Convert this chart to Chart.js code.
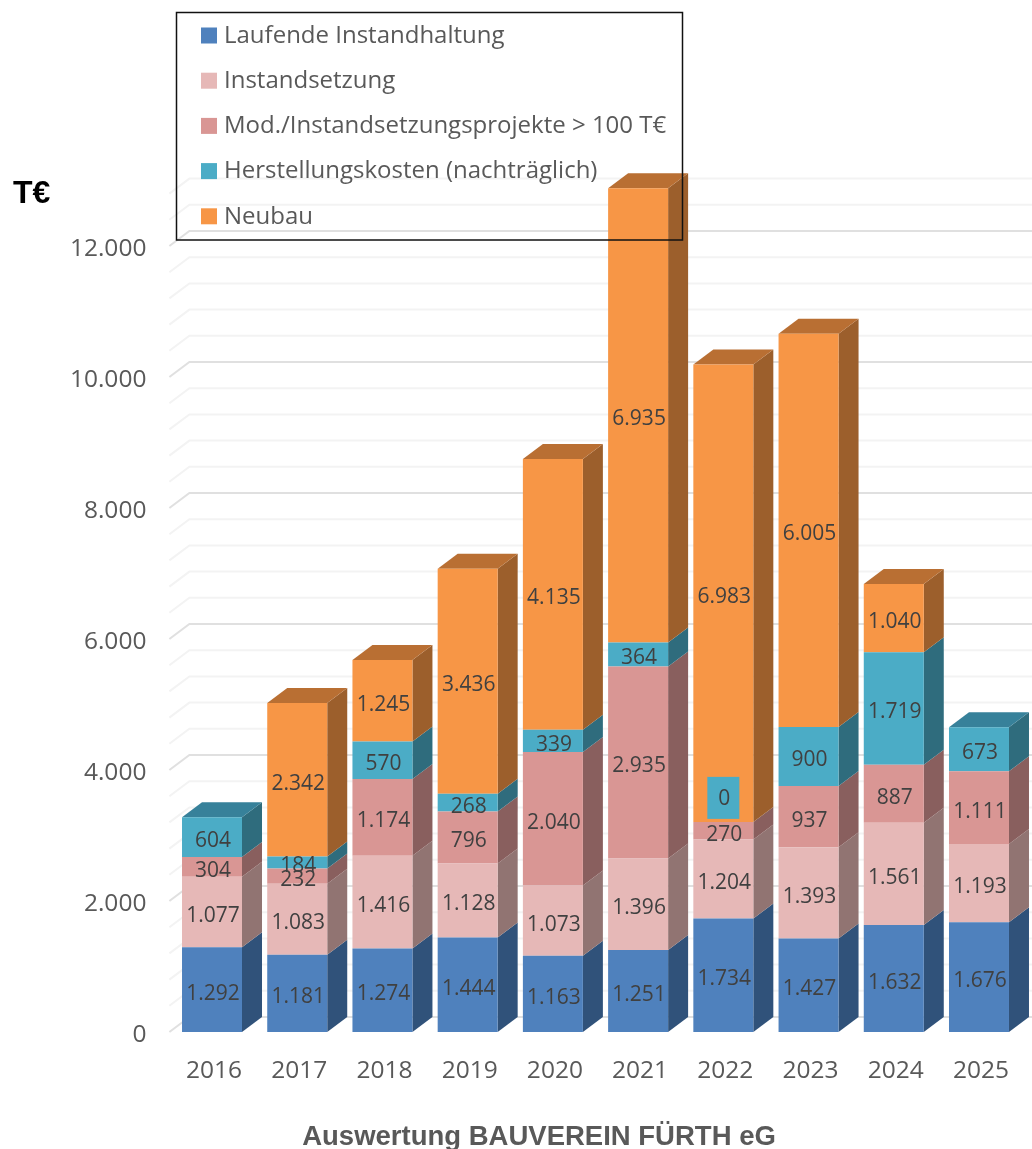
<!DOCTYPE html>
<html lang="de">
<head>
<meta charset="utf-8">
<title>Auswertung BAUVEREIN FÜRTH eG</title>
<script src="https://cdn.jsdelivr.net/npm/chart.js@4/dist/chart.umd.min.js"></script>
<style>
    html, body { margin: 0; padding: 0; background: #fff; }
    canvas { display: block; filter: blur(0.5px); }
</style>
</head>
<body>
<canvas id="costChart" width="1032" height="1149"></canvas>
<script>
// Values in T€
const years = ['2016', '2017', '2018', '2019', '2020', '2021', '2022', '2023', '2024', '2025'];
const laufendeInstandhaltung = [1292, 1181, 1274, 1444, 1163, 1251, 1734, 1427, 1632, 1676];
const instandsetzung = [1077, 1083, 1416, 1128, 1073, 1396, 1204, 1393, 1561, 1193];
const modProjekte = [304, 232, 1174, 796, 2040, 2935, 270, 937, 887, 1111];
const herstellungskosten = [604, 184, 570, 268, 339, 364, 0, 900, 1719, 673];
const neubau = [null, 2342, 1245, 3436, 4135, 6935, 6983, 6005, 1040, null];

const TEXT_FONT = '"Open Sans", sans-serif';
const DEPTH_X = 20;
const DEPTH_Y = 15;

// One entry per series: front, side and top face
const faces = [
    { front: '#4F81BD', side: '#30527A', top: '#3A6593' },
    { front: '#E6B8B7', side: '#917472', top: '#B08D8C' },
    { front: '#D99694', side: '#895F5E', top: '#A67271' },
    { front: '#4BACC6', side: '#2F6C7D', top: '#37819A' },
    { front: '#F79646', side: '#9C5F2C', top: '#B96F33' }
];

function formatThousands(v) {
    return String(v).replace(/\B(?=(\d{3})+$)/g, '.');
}

// Back wall lines, with the short diagonal on the left side
const wallPlugin = {
    id: 'wall',
    beforeDatasetsDraw(chart) {
        const ctx = chart.ctx;
        const y = chart.scales.y;
        ctx.save();
        ctx.lineWidth = 2;
        y.ticks.forEach(t => {
            const py = y.getPixelForValue(t.value);
            ctx.strokeStyle = t.value % 2000 === 0 ? '#E0E0E0' : '#F3F3F3';
            ctx.beginPath();
            ctx.moveTo(chart.chartArea.left, py);
            ctx.lineTo(chart.chartArea.left + DEPTH_X, py - DEPTH_Y);
            ctx.lineTo(chart.width, py - DEPTH_Y);
            ctx.stroke();
        });
        ctx.restore();
    }
};

// Side and top faces of the stacked bars
const depthPlugin = {
    id: 'depth',
    beforeDatasetsDraw(chart) {
        const ctx = chart.ctx;
        ctx.save();
        chart.data.datasets.forEach((ds, i) => {
            chart.getDatasetMeta(i).data.forEach((bar, j) => {
                if (!ds.data[j]) return;
                const right = bar.x + bar.width / 2;
                ctx.fillStyle = faces[i].side;
                ctx.beginPath();
                ctx.moveTo(right, bar.base);
                ctx.lineTo(right + DEPTH_X, bar.base - DEPTH_Y);
                ctx.lineTo(right + DEPTH_X, bar.y - DEPTH_Y);
                ctx.lineTo(right, bar.y);
                ctx.closePath();
                ctx.fill();
            });
        });
        years.forEach((year, j) => {
            let i = chart.data.datasets.length - 1;
            while (i > 0 && !chart.data.datasets[i].data[j]) i--;
            const bar = chart.getDatasetMeta(i).data[j];
            const left = bar.x - bar.width / 2;
            const right = bar.x + bar.width / 2;
            ctx.fillStyle = faces[i].top;
            ctx.beginPath();
            ctx.moveTo(left, bar.y);
            ctx.lineTo(left + DEPTH_X, bar.y - DEPTH_Y);
            ctx.lineTo(right + DEPTH_X, bar.y - DEPTH_Y);
            ctx.lineTo(right, bar.y);
            ctx.closePath();
            ctx.fill();
        });
        ctx.restore();
    }
};

// Value labels in the middle of each segment
const valueLabelPlugin = {
    id: 'valueLabels',
    afterDatasetsDraw(chart) {
        const ctx = chart.ctx;
        ctx.save();
        ctx.font = '21px ' + TEXT_FONT;
        ctx.textAlign = 'center';
        ctx.textBaseline = 'middle';
        chart.data.datasets.forEach((ds, i) => {
            chart.getDatasetMeta(i).data.forEach((bar, j) => {
                const v = ds.data[j];
                if (v === null) return;
                let py = (bar.y + bar.base) / 2 + 3;
                if (v === 0) {
                    // empty segment: label sits above the stack on its own box
                    py = bar.y - 24;
                    ctx.fillStyle = faces[i].front;
                    ctx.fillRect(bar.x - 16, py - 21, 32, 42);
                }
                ctx.fillStyle = '#404040';
                ctx.fillText(formatThousands(v), bar.x + 1, py + 1);
            });
        });
        ctx.restore();
    }
};

// Boxed legend, unit and caption
const framePlugin = {
    id: 'frame',
    afterDraw(chart) {
        const ctx = chart.ctx;
        ctx.save();
        ctx.textBaseline = 'middle';
        ctx.textAlign = 'left';
        ctx.font = '24px ' + TEXT_FONT;
        chart.data.datasets.forEach((ds, i) => {
            const rowY = 35.5 + i * 45.2;
            ctx.fillStyle = ds.backgroundColor;
            ctx.fillRect(201, rowY - 8, 16, 16);
            ctx.fillStyle = '#595959';
            ctx.fillText(ds.label, 224, rowY + 0.5);
        });
        ctx.strokeStyle = '#111';
        ctx.lineWidth = 1.5;
        ctx.strokeRect(176.5, 12.5, 506, 227.5);

        ctx.fillStyle = '#000';
        ctx.font = 'bold 32px "Liberation Sans", sans-serif';
        ctx.fillText('T€', 13, 194);

        ctx.fillStyle = '#595959';
        ctx.font = 'bold 27.5px "Liberation Sans", sans-serif';
        ctx.textAlign = 'center';
        ctx.fillText('Auswertung BAUVEREIN FÜRTH eG', 539, 1137);
        ctx.restore();
    }
};

const seriesLabels = [
    'Laufende Instandhaltung',
    'Instandsetzung',
    'Mod./Instandsetzungsprojekte > 100 T€',
    'Herstellungskosten (nachträglich)',
    'Neubau'
];
const seriesValues = [laufendeInstandhaltung, instandsetzung, modProjekte, herstellungskosten, neubau];

new Chart(document.getElementById('costChart').getContext('2d'), {
    type: 'bar',
    data: {
        labels: years,
        datasets: seriesValues.map((values, i) => ({
            label: seriesLabels[i],
            data: values,
            backgroundColor: faces[i].front,
            borderWidth: 0,
            barPercentage: 0.704,
            categoryPercentage: 1
        }))
    },
    plugins: [wallPlugin, depthPlugin, valueLabelPlugin, framePlugin],
    options: {
        responsive: false,
        animation: false,
        devicePixelRatio: 1,
        layout: { padding: { top: 180.5, right: 10.4, left: 0, bottom: 0 } },
        plugins: {
            legend: { display: false },
            title: { display: false },
            tooltip: { enabled: false }
        },
        scales: {
            x: {
                stacked: true,
                grid: { display: false },
                border: { display: false },
                ticks: {
                    color: '#595959',
                    font: { family: TEXT_FONT, size: 24.5 },
                    padding: 16,
                    labelOffset: 2,
                    maxRotation: 0
                },
                afterFit(scale) { scale.height = 117; }
            },
            y: {
                stacked: true,
                min: 0,
                max: 13000,
                grid: { display: false },
                border: { display: false },
                ticks: {
                    stepSize: 400,
                    includeBounds: false,
                    autoSkip: false,
                    color: '#595959',
                    font: { family: TEXT_FONT, size: 24.5 },
                    padding: 15,
                    labelOffset: 3,
                    callback: v => (v % 2000 === 0 ? formatThousands(v) : '')
                },
                afterFit(scale) { scale.width = 169.4; }
            }
        }
    }
});
</script>
</body>
</html>
